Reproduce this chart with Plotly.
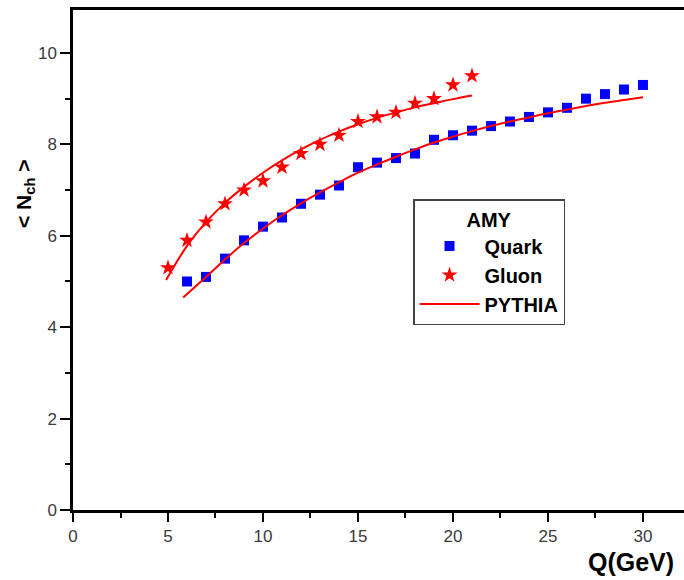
import plotly.graph_objects as go

# Data
quark_q = [6, 7, 8, 9, 10, 11, 12, 13, 14, 15, 16, 17, 18, 19, 20, 21, 22, 23, 24, 25, 26, 27, 28, 29, 30]
quark_n = [5.0, 5.1, 5.5, 5.9, 6.2, 6.4, 6.7, 6.9, 7.1, 7.5, 7.6, 7.7, 7.8, 8.1, 8.2, 8.3, 8.4, 8.5, 8.6, 8.7, 8.8, 9.0, 9.1, 9.2, 9.3]

gluon_q = [5, 6, 7, 8, 9, 10, 11, 12, 13, 14, 15, 16, 17, 18, 19, 20, 21]
gluon_n = [5.3, 5.9, 6.3, 6.7, 7.0, 7.2, 7.5, 7.8, 8.0, 8.2, 8.5, 8.6, 8.7, 8.9, 9.0, 9.3, 9.5]

pythia_g_q = [4.9, 6, 7, 8, 9, 10, 11, 12, 13, 14, 15, 16, 17, 18, 19, 20, 21]
pythia_g_n = [5.03, 5.78, 6.3, 6.72, 7.07, 7.38, 7.65, 7.89, 8.1, 8.28, 8.44, 8.58, 8.7, 8.81, 8.9, 8.99, 9.07]

pythia_q_q = [5.8, 7, 8, 9, 10, 11, 12, 13, 14, 15, 16, 17, 18, 19, 20, 21, 22, 23, 24, 25, 26, 27, 28, 29, 30]
pythia_q_n = [4.65, 5.1, 5.48, 5.84, 6.16, 6.45, 6.71, 6.95, 7.17, 7.38, 7.56, 7.73, 7.89, 8.04, 8.17, 8.29, 8.4, 8.5, 8.59, 8.68, 8.76, 8.84, 8.91, 8.97, 9.03]

x_ticks = [0, 5, 10, 15, 20, 25, 30]
y_ticks = [0, 2, 4, 6, 8, 10]

fig = go.Figure()

fig.add_trace(go.Scatter(
    x=quark_q, y=quark_n, mode="markers", name="Quark",
    marker=dict(symbol="square", size=10, color="#0000FF"),
))
fig.add_trace(go.Scatter(
    x=gluon_q, y=gluon_n, mode="markers", name="Gluon",
    marker=dict(symbol="star", size=12, color="#FF0000"),
))
fig.add_trace(go.Scatter(
    x=pythia_g_q, y=pythia_g_n, mode="lines", name="PYTHIA",
    line=dict(color="#FF0000", width=2, shape="spline"),
))
fig.add_trace(go.Scatter(
    x=pythia_q_q, y=pythia_q_n, mode="lines", name="PYTHIA",
    line=dict(color="#FF0000", width=2, shape="spline"), showlegend=False,
))

tickfont = dict(family="Liberation Sans, Arial", size=17, color="#3a3a3a")

fig.update_layout(
    width=684, height=580,
    margin=dict(l=73, r=0, t=10, b=70),
    paper_bgcolor="white", plot_bgcolor="white",
    showlegend=True,
    legend=dict(
        x=0.5565, y=(510 - 199) / 500, xanchor="left", yanchor="top",
        bordercolor="#444444", borderwidth=1.5, bgcolor="white",
        font=dict(family="Liberation Sans, Arial", size=20, color="black", weight="bold"),
        title=dict(text="<b>AMY</b>", side="top center",
                   font=dict(family="Liberation Sans, Arial", size=20, color="black")),
        itemwidth=60, tracegroupgap=0,
    ),
    xaxis=dict(
        range=[0, 32.16], showgrid=False, zeroline=False,
        showline=True, linecolor="black", linewidth=2.5, mirror=True,
        tickmode="array", tickvals=x_ticks, ticktext=[str(v) for v in x_ticks],
        ticks="outside", ticklen=9, tickwidth=2, tickcolor="black",
        tickfont=tickfont,
        minor=dict(dtick=2.5, tick0=0, ticks="outside", ticklen=5, tickwidth=2, tickcolor="black"),
    ),
    yaxis=dict(
        range=[0, 10.94], showgrid=False, zeroline=False,
        showline=True, linecolor="black", linewidth=2.5, mirror=False,
        tickmode="array", tickvals=y_ticks, ticktext=[str(v) for v in y_ticks],
        ticks="outside", ticklen=10, tickwidth=2, tickcolor="black",
        tickfont=tickfont,
        minor=dict(dtick=1, tick0=0, ticks="outside", ticklen=5, tickwidth=2, tickcolor="black"),
    ),
    annotations=[
        dict(text="<b>Q(GeV)</b>", xref="paper", yref="paper",
             x=(631 - 73) / 611, y=(510 - 562) / 500,
             xanchor="center", yanchor="middle", showarrow=False,
             font=dict(family="Liberation Sans, Arial", size=25, color="black")),
        dict(text="<b>&lt; N<sub>ch</sub> &gt;</b>", xref="paper", yref="paper",
             x=(25 - 73) / 611, y=(510 - 194) / 500, textangle=-90,
             xanchor="center", yanchor="middle", showarrow=False,
             font=dict(family="Liberation Sans, Arial", size=21, color="black")),
    ],
)

fig.write_html("out.html")
